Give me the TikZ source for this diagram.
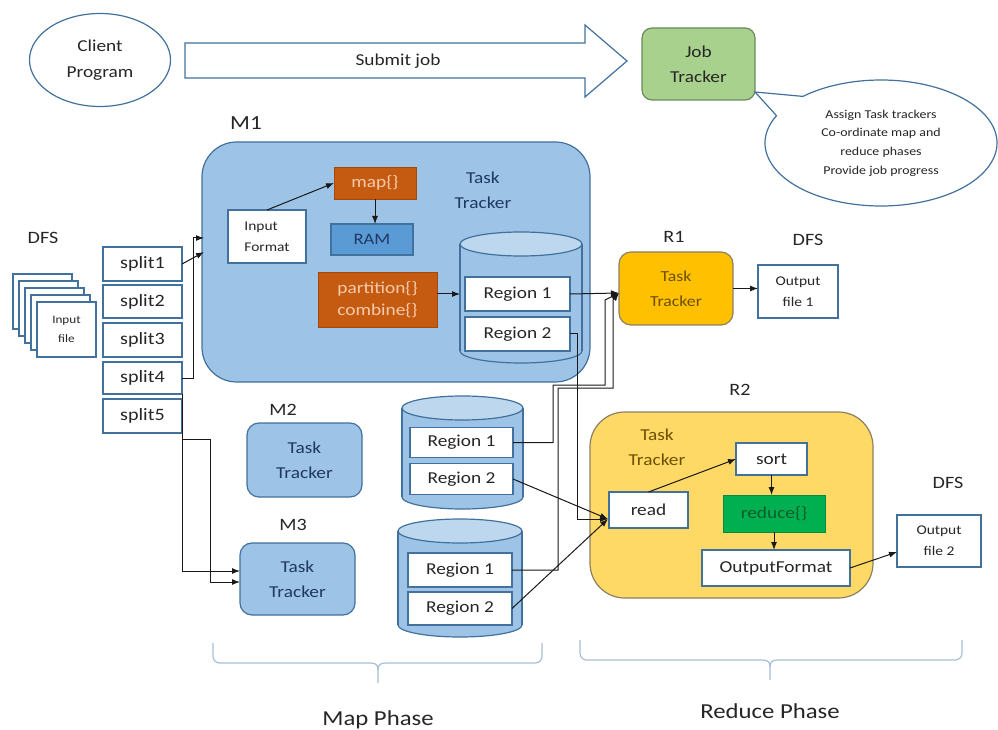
\documentclass[tikz,border=0pt]{standalone}
\usepackage{fontspec}
\setmainfont{Carlito}[FakeStretch=1.16]
\usetikzlibrary{shapes.geometric,shapes.callouts,arrows.meta}
\definecolor{bord}{HTML}{41719C}
\definecolor{txt}{HTML}{262626}
\definecolor{mfill}{HTML}{9DC3E6}
\definecolor{cyltop}{HTML}{BDD7EE}
\definecolor{navy}{HTML}{1F3864}
\definecolor{orng}{HTML}{C55A11}
\definecolor{orngd}{HTML}{A4490C}
\definecolor{orngtxt}{HTML}{F8CBAD}
\definecolor{ramfill}{HTML}{5B9BD5}
\definecolor{jtfill}{HTML}{A9D18E}
\definecolor{jtbord}{HTML}{6A8A5C}
\definecolor{rone}{HTML}{FFC000}
\definecolor{rtwo}{HTML}{FFD966}
\definecolor{rbord}{HTML}{8C8060}
\definecolor{rtxt}{HTML}{6B5000}
\definecolor{redfill}{HTML}{00B050}
\definecolor{redtxt}{HTML}{0D5C2B}
\definecolor{bracec}{HTML}{A7BFD8}
\newcommand{\pxu}{0.75pt}
\newcommand{\mycyl}[4]{%
  \filldraw[draw=bord, fill=mfill, line width=0.9pt] ({(#1+#2)/2},#4) ellipse [x radius={(#2-#1)/2}, y radius=12];
  \fill[mfill] (#1,#3) rectangle (#2,#4);
  \draw[bord, line width=0.9pt] (#1,#3) -- (#1,#4) (#2,#3) -- (#2,#4);
  \filldraw[draw=bord, fill=cyltop, line width=0.9pt] ({(#1+#2)/2},#3) ellipse [x radius={(#2-#1)/2}, y radius=12];
}
\tikzset{
  every node/.style={inner sep=0pt, outer sep=0pt},
  sz/.style 2 args={minimum width=#1*\pxu, minimum height=#2*\pxu},
  fs/.style 2 args={font=\fontsize{#1}{#2}\selectfont},
  wbox/.style={draw=bord, fill=white, line width=0.9pt, align=center, text=txt},
  tbox/.style={draw=bord, fill=mfill, line width=0.9pt, rounded corners=9pt, align=center, text=navy},
  obox/.style={draw=orngd, fill=orng, line width=0.6pt, text=orngtxt, align=center},
  lab/.style={text=txt},
  arr/.style={-{Latex[length=6pt,width=4.5pt]}, line width=0.75pt, draw=black!90},
  brc/.style={draw=bracec, line width=0.9pt, rounded corners=5pt}
}
\begin{document}
\begin{tikzpicture}[x=0.75pt,y=-0.75pt]
\useasboundingbox (0,0) rectangle (998,730);

% client and submit
\node[ellipse, draw=bord, fill=white, line width=0.9pt, sz={141}{93}, align=center, fs={12.5}{19.5}, text=txt] (client) at (100,60) {Client\\Program};
\draw[bord, line width=0.9pt, fill=white] (185,43) -- (585,43) -- (585,25) -- (627,61) -- (585,97) -- (585,78) -- (185,78) -- cycle;
\node[fs={12.5}{15}, lab] (submit) at (398,61) {Submit job};

% job tracker and callout
\node[draw=jtbord, fill=jtfill, rounded corners=7.5pt, sz={113}{72}, line width=0.9pt, align=center, fs={12.5}{18.75}, text=txt] (jt) at (698.5,64) {Job\\Tracker};
\node[ellipse callout, draw=bord, fill=white, line width=0.9pt, sz={232}{126}, callout absolute pointer={(755,92)}, callout pointer arc=22, align=center, fs={9}{14}, text=txt] (co) at (881,143) {Assign Task trackers\\Co-ordinate map and\\reduce phases\\Provide job progress};

% DFS input
\node[fs={13}{15}, lab] (dfs1) at (43,238) {DFS};
\foreach \k in {4,3,2,1} {
  \node[draw=bord, fill=white, line width=0.9pt, sz={59}{55}] (inbg\k) at ({66.5-6*\k},{329.5-7*\k}) {};
}
\node[wbox, sz={59}{55}, fs={8.5}{14}] (infile) at (66.5,329.5) {Input\\file};

% splits
\node[wbox, sz={79}{34}, fs={13}{15}] (s1) at (142.5,264) {split1};
\node[wbox, sz={79}{33}, fs={13}{15}] (s2) at (142.5,301.5) {split2};
\node[wbox, sz={79}{34}, fs={13}{15}] (s3) at (142.5,340) {split3};
\node[wbox, sz={79}{32}, fs={13}{15}] (s4) at (142.5,378) {split4};
\node[wbox, sz={79}{34}, fs={13}{15}] (s5) at (142.5,416) {split5};

% M1
\node[fs={15}{17}, lab] (m1lab) at (246,123) {M1};
\node[draw=bord, fill=mfill, line width=0.9pt, rounded corners=26pt, sz={388}{240}] (m1) at (396,262) {};
\node[fs={12.5}{18.75}, text=navy, align=center] (m1tt) at (483,190) {Task\\Tracker};
\node[wbox, sz={78}{53}, fs={10}{16}, align=left] (inpf) at (267,236.5) {Input\\Format};
\node[obox, sz={82}{32}, fs={12.5}{15}] (map) at (375,183) {map\{\}};
\node[draw=bord, fill=ramfill, line width=0.9pt, sz={82}{31}, text=navy, fs={12}{14}] (ram) at (372,239.5) {RAM};
\node[obox, sz={119}{55}, fs={12.5}{17}] (part) at (377.5,299.5) {partition\{\}\\combine\{\}};
\mycyl{460}{582}{244}{351}
\node[wbox, sz={105}{34}, fs={12.5}{15}] (m1r1) at (517.5,294) {Region 1};
\node[wbox, sz={105}{34}, fs={12.5}{15}] (m1r2) at (517.5,334) {Region 2};

% M2
\node[fs={13}{15}, lab] (m2lab) at (283,410) {M2};
\node[tbox, sz={115}{74}, fs={12.5}{18.75}] (m2) at (304.5,460) {Task\\Tracker};
\mycyl{402}{523}{408}{497}
\node[wbox, sz={103}{30}, fs={12.5}{15}] (m2r1) at (461.5,442.5) {Region 1};
\node[wbox, sz={103}{31}, fs={12.5}{15}] (m2r2) at (461.5,479) {Region 2};

% M3
\node[fs={13}{15}, lab] (m3lab) at (293,525) {M3};
\node[tbox, sz={115}{72}, fs={12.5}{18.75}] (m3) at (297.5,579) {Task\\Tracker};
\mycyl{398}{522}{531}{625}
\node[wbox, sz={104}{34}, fs={12.5}{15}] (m3r1) at (460,570) {Region 1};
\node[wbox, sz={104}{33}, fs={12.5}{15}] (m3r2) at (460,608.5) {Region 2};

% R1
\node[fs={13}{15}, lab] (r1lab) at (674,237) {R1};
\node[draw=rbord, fill=rone, line width=0.9pt, rounded corners=9pt, sz={114}{73}, align=center, text=rtxt, fs={11.5}{18.75}] (r1) at (676,288.5) {Task\\Tracker};
\node[fs={13}{15}, lab] (dfs2) at (808,240) {DFS};
\node[wbox, sz={80}{53}, fs={10}{16}] (out1) at (798,291.5) {Output\\file 1};

% R2
\node[fs={13}{15}, lab] (r2lab) at (740,390) {R2};
\node[draw=rbord, fill=rtwo, line width=0.9pt, rounded corners=26pt, sz={283}{186}] (r2) at (731.5,505) {};
\node[fs={12.5}{18.75}, text=rtxt, align=center] (r2tt) at (657,447) {Task\\Tracker};
\node[wbox, sz={71}{32}, fs={12.5}{15}] (sort) at (771.5,459) {sort};
\node[draw=redfill!80!black, fill=redfill, line width=0.6pt, sz={102}{37}, text=redtxt, fs={12.5}{15}] (red) at (774,513.5) {reduce\{\}};
\node[wbox, sz={148}{36}, fs={12.5}{15}] (ofmt) at (776,568) {OutputFormat};
\node[wbox, sz={79}{36}, fs={12.5}{15}] (read) at (648.5,510) {read};
\node[fs={13}{15}, lab] (dfs3) at (948,483) {DFS};
\node[wbox, sz={84}{52}, fs={10}{16}] (out2) at (939,541) {Output\\file 2};

% coordinates for connector ends
\coordinate (m1in1) at (204,238);
\coordinate (m1in2) at (204,252);
\coordinate (m3in1) at (240,571);
\coordinate (m3in2) at (240,582);
\coordinate (cyl1w) at (460,294);
\coordinate (readin) at (608,519);
\coordinate (r1in) at (619,293);
\coordinate (out2in) at (897,552);

% connectors
\draw[arr] (s1.east) -- (m1in2);
\draw[arr] (s4.east) -| (193,238) -- (m1in1);
\draw[arr] (s4.south east) |- (m3in1);
\draw[arr] ([yshift=-5pt]s5.south east) -| (210,582) -- (m3in2);
\draw[arr] (inpf.north) -- (map.west);
\draw[arr] (map.south) -- (map.south |- ram.north);
\draw[arr] (part.east |- cyl1w) -- (cyl1w);
\draw[arr] (m1r1.east) -- (r1in);
\draw[arr] (m1r2.east) -| (577,519) -- (readin);
\draw[arr] (m2r1.east) -| (553,385) -| (605,300) -- (r1in);
\draw[arr] (m3r1.east) -| (558,388) -| (613,300) -- (r1in);
\draw[arr] (m2r2.east) -- (readin);
\draw[arr] (m3r2.east) -- (readin);
\draw[arr] (r1.east) -- (r1.east -| out1.west);
\draw[arr] (read.north) -- (sort.west);
\draw[arr] (sort.south) -- (sort.south |- red.north);
\draw[arr] (red.south) -- (red.south |- ofmt.north);
\draw[arr] (ofmt.east) -- (out2in);

% braces
\draw[brc] (213,643) |- (370,663);
\draw[brc] (542,643) |- (386,663);
\draw[bracec, line width=0.9pt] (370,663) .. controls (376,663) and (378,665) .. (378,670) -- (378,683);
\draw[bracec, line width=0.9pt] (386,663) .. controls (380,663) and (378,665) .. (378,670);
\draw[brc] (580,640) |- (762,660);
\draw[brc] (962,640) |- (778,660);
\draw[bracec, line width=0.9pt] (762,660) .. controls (768,660) and (770,662) .. (770,667) -- (770,680);
\draw[bracec, line width=0.9pt] (778,660) .. controls (772,660) and (770,662) .. (770,667);
\node[fs={16}{18}, lab] (mapph) at (378,720) {Map Phase};
\node[fs={16}{18}, lab] (redph) at (770,711) {Reduce Phase};
\end{tikzpicture}
\end{document}
